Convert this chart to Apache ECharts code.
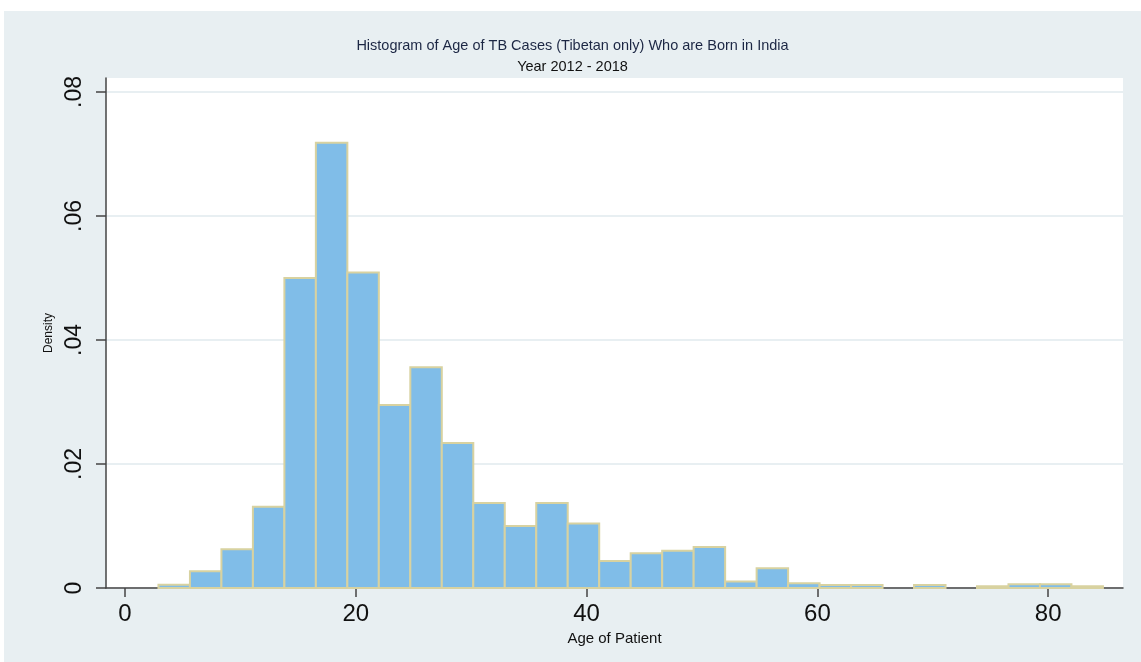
<!DOCTYPE html>
<html>
<head>
<meta charset="utf-8">
<title>Histogram of Age of TB Cases</title>
<script src="https://cdn.jsdelivr.net/npm/echarts@6/dist/echarts.min.js"></script>
<style>
  html, body { margin: 0; padding: 0; background: #fff; }
  #chart { position: absolute; left: 4px; top: 11px; width: 1137px; height: 651px; }
</style>
</head>
<body>
<div id="chart"></div>
<script>
  // histogram bins (age in years) and their densities
  var binStart = 2.9;
  var binWidth = 2.728;
  var density = [
    0.00053, 0.00269, 0.00624, 0.0131, 0.0500, 0.0718, 0.0509, 0.0295, 0.0356, 0.0234,
    0.0137, 0.0100, 0.0137, 0.0104, 0.00435, 0.0056, 0.0060, 0.0066, 0.00105, 0.0032,
    0.00076, 0.00048, 0.00048, 0, 0.00048, 0, 0.00027, 0.0006, 0.0006, 0.00027
  ];
  var xTicks = [0, 20, 40, 60, 80];
  var yTicks = [0, 0.02, 0.04, 0.06, 0.08];

  var font = "'Liberation Sans', Arial, sans-serif";

  var bins = [];
  density.forEach(function (d, i) {
    if (d > 0) bins.push([binStart + i * binWidth, binStart + (i + 1) * binWidth, d]);
  });

  var myChart = echarts.init(document.getElementById('chart'));
  window.addEventListener('resize', function () { myChart.resize(); });

  myChart.setOption({
    backgroundColor: '#e8eff2',
    animation: false,
    title: [{
      text: 'Histogram of Age of TB Cases (Tibetan only) Who are Born in India',
      left: 'center',
      top: 27,
      padding: [0, 24, 0, 5],
      textStyle: { fontFamily: font, fontSize: 14.5, fontWeight: 'normal', color: '#1c2744' }
    }, {
      text: 'Year 2012 - 2018',
      left: 'center',
      top: 48,
      padding: 0,
      textStyle: { fontFamily: font, fontSize: 14.5, fontWeight: 'normal', color: '#111' }
    }],
    grid: {
      left: 102, right: 18, top: 67, bottom: 74,
      show: true,
      backgroundColor: '#fff',
      borderWidth: 0
    },
    xAxis: {
      type: 'value',
      min: -1.646,
      max: 86.48,
      name: 'Age of Patient',
      nameLocation: 'middle',
      nameGap: 36,
      nameTextStyle: { fontFamily: font, fontSize: 15, color: '#111' },
      axisLine: { onZero: false, lineStyle: { color: '#444', width: 1.5 } },
      axisTick: { show: true, length: 9, customValues: xTicks, lineStyle: { color: '#444', width: 1.5 } },
      axisLabel: { customValues: xTicks, margin: 14, fontFamily: font, fontSize: 24, color: '#111' },
      splitLine: { show: false }
    },
    yAxis: {
      type: 'value',
      min: 0,
      max: 0.08226,
      name: 'Density',
      nameLocation: 'middle',
      nameGap: 51,
      nameTextStyle: { fontFamily: font, fontSize: 12, color: '#111' },
      axisLine: { show: true, onZero: false, lineStyle: { color: '#444', width: 1.5 } },
      axisTick: { show: true, length: 10, customValues: yTicks, lineStyle: { color: '#444', width: 1.5 } },
      axisLabel: {
        customValues: yTicks,
        rotate: 90,
        margin: 20,
        fontFamily: font,
        fontSize: 23,
        color: '#111',
        formatter: function (v) { return v === 0 ? '0' : String(v).replace('0.', '.'); }
      },
      splitLine: { show: true, lineStyle: { color: '#e8eff2', width: 2 } }
    },
    series: [{
      type: 'custom',
      data: bins,
      encode: { x: [0, 1], y: 2 },
      renderItem: function (params, api) {
        var p0 = api.coord([api.value(0), api.value(2)]);
        var p1 = api.coord([api.value(1), 0]);
        return {
          type: 'rect',
          shape: { x: p0[0], y: p0[1], width: p1[0] - p0[0], height: p1[1] - p0[1] },
          style: { fill: '#80bde8', stroke: '#d8d2a0', lineWidth: 2 }
        };
      }
    }]
  });
</script>
</body>
</html>
